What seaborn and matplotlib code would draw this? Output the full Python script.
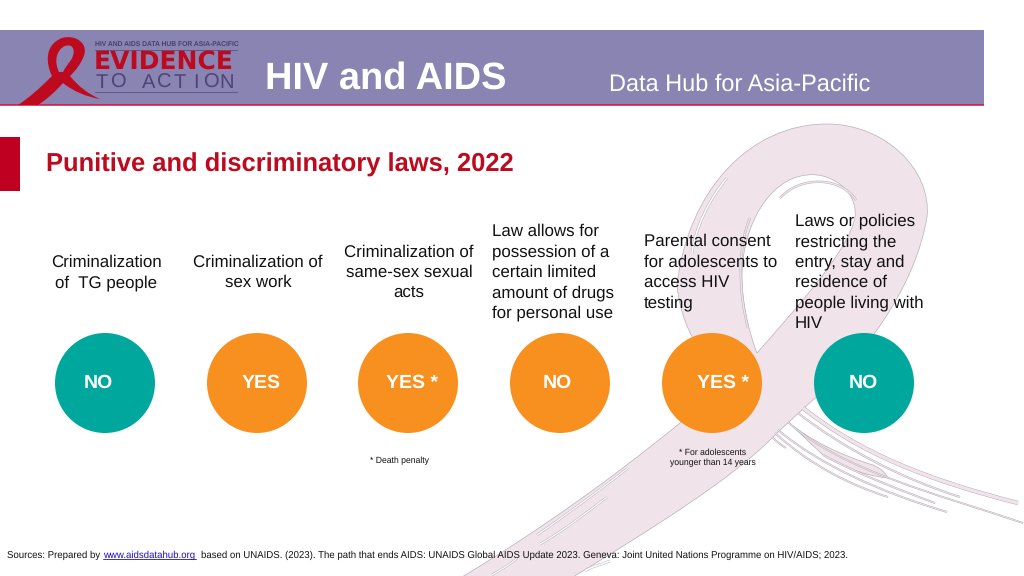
import matplotlib
matplotlib.use("Agg")
import matplotlib.pyplot as plt
import pandas as pd
import seaborn as sns
from matplotlib.patches import PathPatch, Rectangle
from matplotlib.path import Path

questions = [
    "Criminalization\nof  TG people",
    "Criminalization of\nsex work",
    "Criminalization of\nsame-sex sexual\nacts",
    "Law allows for\npossession of a\ncertain limited\namount of drugs\nfor personal use",
    "Parental consent\nfor adolescents to\naccess HIV\ntesting",
    "Laws or policies\nrestricting the\nentry, stay and\nresidence of\npeople living with\nHIV",
]
answers = ["NO", "YES", "YES *", "NO", "YES *", "NO"]
circle_colors = ["#00A79D", "#F7901E", "#F7901E", "#F7901E", "#F7901E", "#00A79D"]
label_x = [98.5, 261, 412, 557.5, 723, 863.5]
footnotes = ["* Death penalty", "* For adolescents\nyounger than 14 years"]

PURPLE = "#8A84B2"
RED = "#BE0A1E"
PINK = "#F0E3EA"
EDGE = "#B9B0B8"
INK = "#111111"

sns.set_theme(style="white")
plt.rcParams["font.family"] = ["Liberation Sans", "DejaVu Sans"]
plt.rcParams["text.hinting"] = "no_hinting"

fig, ax = plt.subplots(figsize=(10.24, 5.76), dpi=100)
ax.set_position([0, 0, 1, 1])


def curve(start, *segments, close=True, **kw):
    # each segment is 3 points of a cubic bezier, in pixels
    verts = [start]
    codes = [Path.MOVETO]
    for seg in segments:
        verts += list(seg)
        codes += [Path.CURVE4] * 3
    if close:
        verts.append(start)
        codes.append(Path.CLOSEPOLY)
    ax.add_patch(PathPatch(Path(verts, codes), **kw))


def streak(p0, p1, p2, p3, w, fill=PINK, zorder=1.2):
    # a thin line with a grey outline, used for the brush marks of the ribbon
    curve(p0, [p1, p2, p3], close=False, fc="none", ec=EDGE, lw=w + 0.7, zorder=zorder)
    curve(p0, [p1, p2, p3], close=False, fc="none", ec=fill, lw=w, zorder=zorder + 0.01)


# big ribbon in the background: outline first, the hole goes on top of it
curve(
    (462, 577),
    [(540, 530), (610, 480), (680, 423)],
    [(700, 400), (705, 370), (700, 350)],
    [(690, 335), (680, 315), (677, 285)],
    [(688, 190), (750, 124), (827, 124)],
    [(885, 124), (932, 170), (927, 217)],
    [(915, 290), (860, 360), (815, 398)],
    [(800, 412), (785, 425), (770, 440)],
    [(730, 480), (650, 530), (573, 577)],
    fc=PINK, ec=EDGE, lw=0.5, zorder=1,
)
curve(
    (757, 353),
    [(790, 315), (850, 250), (855, 217)],
    [(858, 190), (830, 172), (807, 175)],
    [(770, 178), (742, 225), (742, 277)],
    [(742, 300), (748, 330), (757, 353)],
    fc="white", ec=EDGE, lw=0.5, zorder=1.1,
)

# brush marks inside the loop
streak((727, 178), (708, 200), (695, 230), (692, 253), 1.2, fill="white")
streak((750, 218), (738, 245), (738, 290), (748, 328), 1.0)
streak((780, 198), (800, 176), (840, 176), (856, 200), 1.0)
# brush marks on the long strand
streak((537, 535), (570, 512), (600, 490), (628, 468), 0.9, fill="white")
streak((540, 544), (565, 530), (590, 510), (607, 497), 0.9, fill="white")
streak((492, 575), (500, 570), (510, 565), (517, 558), 0.9, fill="white")
streak((585, 571), (590, 567), (600, 565), (610, 561), 1.2, fill="white")

# tails running off to the right
curve(
    (788, 422),
    [(810, 440), (840, 455), (873, 465)],
    [(880, 468), (885, 472), (888, 478)],
    [(860, 475), (840, 465), (823, 455)],
    fc=PINK, ec=EDGE, lw=0.5, zorder=1.2,
)
streak((803, 408), (860, 453), (927, 480), (1018, 503), 2.4)
streak((798, 413), (843, 448), (900, 478), (960, 497), 0.8)
streak((788, 422), (840, 470), (940, 495), (1023, 523), 0.6)
streak((778, 430), (820, 465), (880, 492), (947, 512), 0.7)
streak((775, 433), (810, 465), (850, 485), (888, 497), 0.7)
streak((823, 455), (860, 475), (900, 490), (935, 503), 0.7)
streak((772, 437), (776, 441), (781, 445), (786, 448), 0.6)

# header band
ax.add_patch(Rectangle((0, 30), 984, 75, fc=PURPLE, ec="none", zorder=2))
ax.plot([0, 984], [105, 105], color="#D8103E", lw=1.1, solid_capstyle="butt", zorder=3)
ax.add_patch(Rectangle((0, 137), 20, 54, fc="#C00020", ec="none", zorder=2))

# logo ribbon
curve(
    (18, 105),
    [(30, 97), (40, 88), (52, 76)],
    [(46, 64), (44, 45), (62, 38)],
    [(76, 34), (90, 44), (83, 58)],
    [(80, 65), (76, 70), (70, 76)],
    [(78, 86), (88, 94), (100, 99)],
    [(88, 97), (74, 92), (63, 83)],
    [(55, 92), (46, 100), (38, 105)],
    fc=RED, ec="none", zorder=3,
)
curve(
    (59, 72),
    [(54, 62), (56, 50), (65, 46)],
    [(74, 43), (76, 52), (71, 60)],
    [(68, 64), (65, 68), (63, 72)],
    fc=PURPLE, ec="none", zorder=3.1,
)
ax.text(95, 44.5, "HIV AND AIDS DATA HUB FOR ASIA-PACIFIC", fontsize=4.87, fontweight="bold",
        color="#4A3F6B", va="center", ha="left", zorder=4)
ax.plot([95, 237], [49.5, 49.5], color="#5A5080", lw=0.6, zorder=4)
ax.text(94, 62, "EVIDENCE", fontsize=18, fontweight="bold", family="DejaVu Sans", color=RED,
        va="center", ha="left", zorder=4)
# the logo's small line is widely spaced, so it goes letter by letter
logo_word = "TO ACTION"
for i, ch in enumerate(logo_word):
    ax.text(102 + i * 15.6, 83, ch, fontsize=14.5, color="#4F4478", va="center", ha="center", zorder=4)
ax.plot([95, 237], [91.5, 91.5], color="#5A5080", lw=0.6, zorder=4)

ax.text(265, 78.5, "HIV and AIDS", fontsize=27.4, fontweight="bold", color="white", va="center", ha="left", zorder=4)
ax.text(609, 84.5, "Data Hub for Asia-Pacific", fontsize=16.95, color="white", va="center", ha="left", zorder=4)
ax.text(46, 164.5, "Punitive and discriminatory laws, 2022", fontsize=18.4, fontweight="bold", color=RED,
        va="center", ha="left", zorder=4)

# circles
df = pd.DataFrame({"x": [105, 257, 408, 560, 712, 864], "y": [383] * 6, "colour": circle_colors})
sns.scatterplot(data=df, x="x", y="y", hue="colour", palette={c: c for c in circle_colors},
                s=72 ** 2, linewidth=0, legend=False, ax=ax, zorder=5)

question_pos = [(106, "center"), (258, "center"), (409, "center"), (492, "left"), (644, "left"), (795, "left")]
for q, (qx, ha) in zip(questions, question_pos):
    ax.text(qx, 272.5, q, fontsize=12.2, color=INK, ha=ha, va="center", linespacing=1.38, zorder=6,
            multialignment=ha)

for a, lx in zip(answers, label_x):
    ax.text(lx, 383, a, fontsize=14, fontweight="bold", color="white", ha="center", va="center", zorder=6)

ax.text(399, 460.5, footnotes[0], fontsize=6.2, color=INK, ha="center", va="center", zorder=6)
ax.text(712.5, 457.5, footnotes[1], fontsize=6.2, color=INK, ha="center", va="center", linespacing=1.35, zorder=6)

# source line, the link is a separate text so it can be blue
src_y = 555
ax.text(7, src_y, "Sources: Prepared by", fontsize=6.9, color=INK, va="center", ha="left", zorder=6)
ax.text(103, src_y, "www.aidsdatahub.org", fontsize=6.9, color="#1A0DCC", va="center", ha="left", zorder=6)
ax.plot([103, 195.5], [559, 559], color="#1A0DCC", lw=0.6, zorder=6)
ax.text(201, src_y,
        "based on UNAIDS. (2023). The path that ends AIDS: UNAIDS Global AIDS Update 2023. Geneva: "
        "Joint United Nations Programme on HIV/AIDS; 2023.",
        fontsize=6.9, color=INK, va="center", ha="left", zorder=6)

ax.set_xlim(0, 1024)
ax.set_ylim(576, 0)
ax.set_xlabel("")
ax.set_ylabel("")
ax.axis("off")
fig.savefig("out.png", dpi=100)
